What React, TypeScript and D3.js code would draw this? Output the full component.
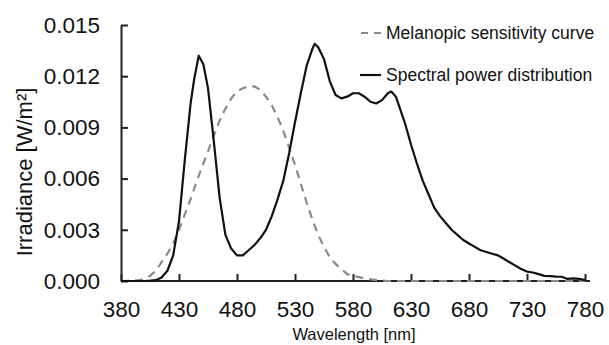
import { useEffect, useRef } from 'react';
import * as d3 from 'd3';

// spectral power distribution of the light source, [wavelength nm, W/m²]
const spdWavelengths = [
  380, 390, 400, 405, 410, 415, 420, 425, 430, 435, 440, 443, 447, 451, 455, 460, 465, 470, 475, 480,
  485, 490, 495, 500, 505, 510, 515, 520, 525, 530, 535, 540, 545, 547, 550, 555, 560, 565, 570, 575,
  580, 585, 590, 595, 600, 605, 610, 613, 617, 620, 625, 630, 635, 640, 645, 650, 655, 660, 665, 670,
  675, 680, 685, 690, 695, 700, 705, 710, 715, 720, 725, 730, 735, 740, 745, 750, 755, 760, 765, 770,
  775, 780,
];
const spdValues = [
  0, 0, 0, 0.00002, 0.00005, 0.0002, 0.0006, 0.0015, 0.0035, 0.0071, 0.0104, 0.0118, 0.0132, 0.0127, 0.0113, 0.0082, 0.0049, 0.0027, 0.0019, 0.0015,
  0.0015, 0.0018, 0.0021, 0.0025, 0.003, 0.0038, 0.0048, 0.0059, 0.0075, 0.0093, 0.011, 0.0126, 0.0136, 0.0139, 0.0137, 0.013, 0.0117, 0.0109, 0.0107, 0.0108,
  0.011, 0.011, 0.0108, 0.0105, 0.0104, 0.0106, 0.011, 0.0111, 0.0108, 0.0102, 0.0092, 0.008, 0.0069, 0.0059, 0.0051, 0.0043, 0.0038, 0.0034, 0.003, 0.0027,
  0.0024, 0.0022, 0.002, 0.0018, 0.0017, 0.0016, 0.0015, 0.0013, 0.0011, 0.0009, 0.0007, 0.00055, 0.0005, 0.0004, 0.0003, 0.00028, 0.00026, 0.00025, 0.00012, 0.00015,
  0.00012, 0.00005,
];

// melanopic sensitivity curve (scaled)
const melWavelengths = [
  380, 390, 395, 400, 405, 410, 415, 420, 425, 430, 435, 440, 445, 450, 455, 460, 465, 470, 475, 480,
  485, 490, 495, 500, 505, 510, 515, 520, 525, 530, 535, 540, 545, 550, 555, 560, 565, 570, 575, 580,
  590, 600, 610, 650, 700, 780,
];
const melValues = [
  0, 0.00002, 0.00005, 0.0001, 0.0003, 0.0006, 0.0011, 0.0016, 0.0022, 0.003, 0.0039, 0.0048, 0.0058, 0.0067, 0.0076, 0.0085, 0.0094, 0.0101, 0.0107, 0.0111,
  0.0113, 0.0114, 0.0114, 0.0112, 0.0108, 0.0103, 0.0096, 0.0088, 0.0078, 0.0068, 0.0057, 0.0046, 0.0036, 0.0027, 0.002, 0.0014, 0.001, 0.0007, 0.0004, 0.0003,
  0.00015, 0.00005, 0, 0, 0, 0,
];

const xTicks = [380, 430, 480, 530, 580, 630, 680, 730, 780];
const yTicks = [0, 0.003, 0.006, 0.009, 0.012, 0.015];
const legendLabels = ['Melanopic sensitivity curve', 'Spectral power distribution'];

const width = 609;
const height = 345;
const font = '"Liberation Sans", Arial, sans-serif';

export default function App() {
  const svgRef = useRef<SVGSVGElement>(null);

  useEffect(() => {
    if (!svgRef.current) return;
    const svg = d3.select(svgRef.current);
    svg.selectAll('*').remove();

    const x = d3.scaleLinear().domain([380, 780]).range([121, 585]);
    const y = d3.scaleLinear().domain([0, 0.015]).range([281, 25]);

    const spd = spdWavelengths.map((w, i) => [w, spdValues[i]] as [number, number]);
    const mel = melWavelengths.map((w, i) => [w, melValues[i]] as [number, number]);

    // y axis, ticks pointing inward
    const yAxis = svg.append('g')
      .attr('transform', `translate(${x(380)},0)`)
      .call(d3.axisLeft(y).tickValues(yTicks).tickSize(-7).tickSizeOuter(0).tickPadding(21)
        .tickFormat(d => (d as number).toFixed(3)));
    yAxis.select('.domain').attr('stroke', '#222').attr('stroke-width', 2);
    yAxis.selectAll('.tick line').attr('stroke', '#222').attr('stroke-width', 2);
    yAxis.selectAll('text')
      .attr('fill', '#111')
      .style('font-family', font)
      .style('font-size', '22.5px');

    // x axis, ticks pointing up
    const xAxis = svg.append('g')
      .attr('transform', `translate(0,${y(0)})`)
      .call(d3.axisBottom(x).tickValues(xTicks).tickSize(-7).tickSizeOuter(0).tickPadding(20)
        .tickFormat(d => String(d)));
    xAxis.select('.domain').remove();
    xAxis.append('line')
      .attr('x1', x(380)).attr('x2', x(780) + 5)
      .attr('stroke', '#222').attr('stroke-width', 2);
    xAxis.selectAll('.tick line').attr('stroke', '#222').attr('stroke-width', 2);
    xAxis.selectAll('text')
      .attr('fill', '#111')
      .style('font-family', font)
      .style('font-size', '22.5px');

    const line = d3.line<[number, number]>()
      .x(d => x(d[0]))
      .y(d => y(d[1]));

    svg.append('path')
      .datum(mel)
      .attr('fill', 'none')
      .attr('stroke', '#8a8a8a')
      .attr('stroke-width', 2.2)
      .attr('stroke-dasharray', '8,6')
      .attr('d', line);

    svg.append('path')
      .datum(spd)
      .attr('fill', 'none')
      .attr('stroke', '#111')
      .attr('stroke-width', 2.2)
      .attr('stroke-linejoin', 'round')
      .attr('d', line);

    svg.append('text')
      .attr('transform', `translate(32,172) rotate(-90)`)
      .attr('text-anchor', 'middle')
      .attr('fill', '#111')
      .style('font-family', font)
      .style('font-size', '22px')
      .text('Irradiance [W/m²]');

    svg.append('text')
      .attr('x', 354)
      .attr('y', 340)
      .attr('text-anchor', 'middle')
      .attr('fill', '#111')
      .style('font-family', font)
      .style('font-size', '16.5px')
      .text('Wavelength [nm]');

    // legend
    const legend = svg.append('g');
    legend.append('line')
      .attr('x1', 361).attr('x2', 383).attr('y1', 33).attr('y2', 33)
      .attr('stroke', '#8a8a8a').attr('stroke-width', 2.2).attr('stroke-dasharray', '7,6');
    legend.append('text')
      .attr('x', 386).attr('y', 39)
      .attr('fill', '#111')
      .style('font-family', font)
      .style('font-size', '17.5px')
      .text(legendLabels[0]);
    legend.append('line')
      .attr('x1', 360).attr('x2', 381).attr('y1', 75).attr('y2', 75)
      .attr('stroke', '#111').attr('stroke-width', 2.2);
    legend.append('text')
      .attr('x', 386).attr('y', 81)
      .attr('fill', '#111')
      .style('font-family', font)
      .style('font-size', '17.5px')
      .text(legendLabels[1]);
  }, []);

  return (
    <svg
      ref={svgRef}
      width={width}
      height={height}
      style={{ position: 'absolute', left: 0, top: 0, background: '#fff' }}
    />
  );
}
